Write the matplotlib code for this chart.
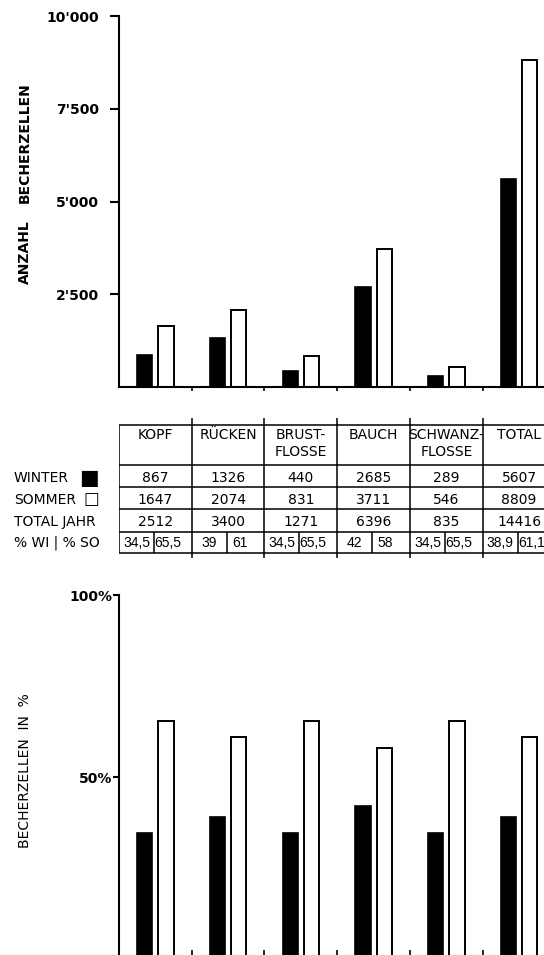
import numpy as np
import matplotlib.pyplot as plt
from matplotlib import transforms

# Becherzellen per body region, winter vs. summer
categories = ["KOPF", "RÜCKEN", "BRUST-\nFLOSSE", "BAUCH", "SCHWANZ-\nFLOSSE", "TOTAL"]
winter = [867, 1326, 440, 2685, 289, 5607]
sommer = [1647, 2074, 831, 3711, 546, 8809]
total_jahr = [2512, 3400, 1271, 6396, 835, 14416]
pct_winter = [34.5, 39, 34.5, 42, 34.5, 38.9]
pct_sommer = [65.5, 61, 65.5, 58, 65.5, 61.1]
pct_winter_labels = ["34,5", "39", "34,5", "42", "34,5", "38,9"]
pct_sommer_labels = ["65,5", "61", "65,5", "58", "65,5", "61,1"]
count_ticks = [2500, 5000, 7500, 10000]
count_tick_labels = ["2'500", "5'000", "7'500", "10'000"]
pct_ticks = [50, 100]
pct_tick_labels = ["50%", "100%"]
row_labels = ["WINTER", "SOMMER", "TOTAL JAHR", "% WI | % SO"]

W, H = 544, 955
X0, X1 = 119, 555.5          # pixel span of the category axis (-0.5 .. 5.5)


def rect(x0, y0, x1, y1):
    # pixel box (top-left origin) -> figure fraction
    return [x0 / W, 1 - y1 / H, (x1 - x0) / W, (y1 - y0) / H]


plt.rcParams["font.family"] = ["DejaVu Sans"]
fig = plt.figure(figsize=(W / 100, H / 100), dpi=100)

x = np.arange(len(categories))
bw = 0.21
off = 0.145
bounds = x[:-1] + 0.5


def style_bar_axes(ax):
    ax.spines["top"].set_visible(False)
    ax.spines["right"].set_visible(False)
    ax.spines["left"].set_linewidth(1.5)
    ax.spines["bottom"].set_linewidth(1.5)
    ax.set_xlim(-0.5, 5.5)
    ax.set_xticks(bounds)
    ax.set_xticklabels([])


# ---- top chart: absolute counts
ax1 = fig.add_axes(rect(X0, 16, X1, 387))
ax1.bar(x - off, winter, bw, color="black", edgecolor="black", linewidth=1.2)
ax1.bar(x + off, sommer, bw, color="white", edgecolor="black", linewidth=1.4)
style_bar_axes(ax1)
ax1.set_ylim(0, 10000)
ax1.set_yticks(count_ticks)
ax1.set_yticklabels(count_tick_labels, fontsize=10, fontweight="bold")
ax1.tick_params(axis="y", direction="out", length=6.5, width=1.5, pad=8)
ax1.tick_params(axis="x", direction="out", length=3, width=1.2)
fig.text(25 / W, 1 - 143 / H, "BECHERZELLEN", rotation=90, ha="center", va="center",
         fontsize=10, fontweight="bold")
fig.text(25 / W, 1 - 252 / H, "ANZAHL", rotation=90, ha="center", va="center",
         fontsize=10, fontweight="bold")

# ---- table
tax = fig.add_axes(rect(X0, 415, X1, 560))
tax.set_xlim(-0.5, 5.5)
tax.set_ylim(560, 415)
tax.axis("off")
lw = 1.1
tax.hlines(425, -0.5, 5.5, color="black", lw=lw)
tax.hlines([465, 487, 509, 532, 553], -0.59, 5.5, color="black", lw=lw)
tax.vlines(-0.5, 425, 553, color="black", lw=lw)
tax.vlines(bounds, 418, 558, color="black", lw=lw)
tax.vlines(x - 0.02, 532, 553, color="black", lw=lw)

for i, name in enumerate(categories):
    tax.text(x[i], 428, name, ha="center", va="top", fontsize=10, linespacing=1.3)
    tax.text(x[i], 478, str(winter[i]), ha="center", va="center", fontsize=10)
    tax.text(x[i], 500, str(sommer[i]), ha="center", va="center", fontsize=10)
    tax.text(x[i], 522, str(total_jahr[i]), ha="center", va="center", fontsize=10)
    tax.text(x[i] - 0.26, 543, pct_winter_labels[i], ha="center", va="center",
             fontsize=10, family="Liberation Sans")
    tax.text(x[i] + 0.165, 543, pct_sommer_labels[i], ha="center", va="center",
             fontsize=10, family="Liberation Sans")

lab_tr = transforms.blended_transform_factory(fig.transFigure, tax.transData)
for lab, yy in zip(row_labels, [478, 500, 522, 543]):
    tax.text(14 / W, yy, lab, transform=lab_tr, ha="left", va="center", fontsize=10,
             clip_on=False)
tax.text(89 / W, 478, "■", transform=lab_tr, ha="center", va="center", fontsize=15,
         clip_on=False)
tax.text(91 / W, 499, "□", transform=lab_tr, ha="center", va="center", fontsize=12,
         clip_on=False)

# ---- bottom chart: percentages
ax2 = fig.add_axes(rect(X0, 595, X1, 959))
ax2.bar(x - off, pct_winter, bw, color="black", edgecolor="black", linewidth=1.2)
ax2.bar(x + off, pct_sommer, bw, color="white", edgecolor="black", linewidth=1.4)
style_bar_axes(ax2)
ax2.set_ylim(0, 100)
ax2.set_yticks(pct_ticks)
ax2.set_yticklabels(pct_tick_labels, fontsize=10, fontweight="bold")
ax2.tick_params(axis="y", direction="out", length=4, width=1.5, pad=1)
ax2.tick_params(axis="x", direction="in", length=6.5, width=1.2)
fig.text(25 / W, 1 - 771 / H, "BECHERZELLEN  IN  %", rotation=90, ha="center", va="center",
         fontsize=10)

fig.savefig("out.png", dpi=100)
